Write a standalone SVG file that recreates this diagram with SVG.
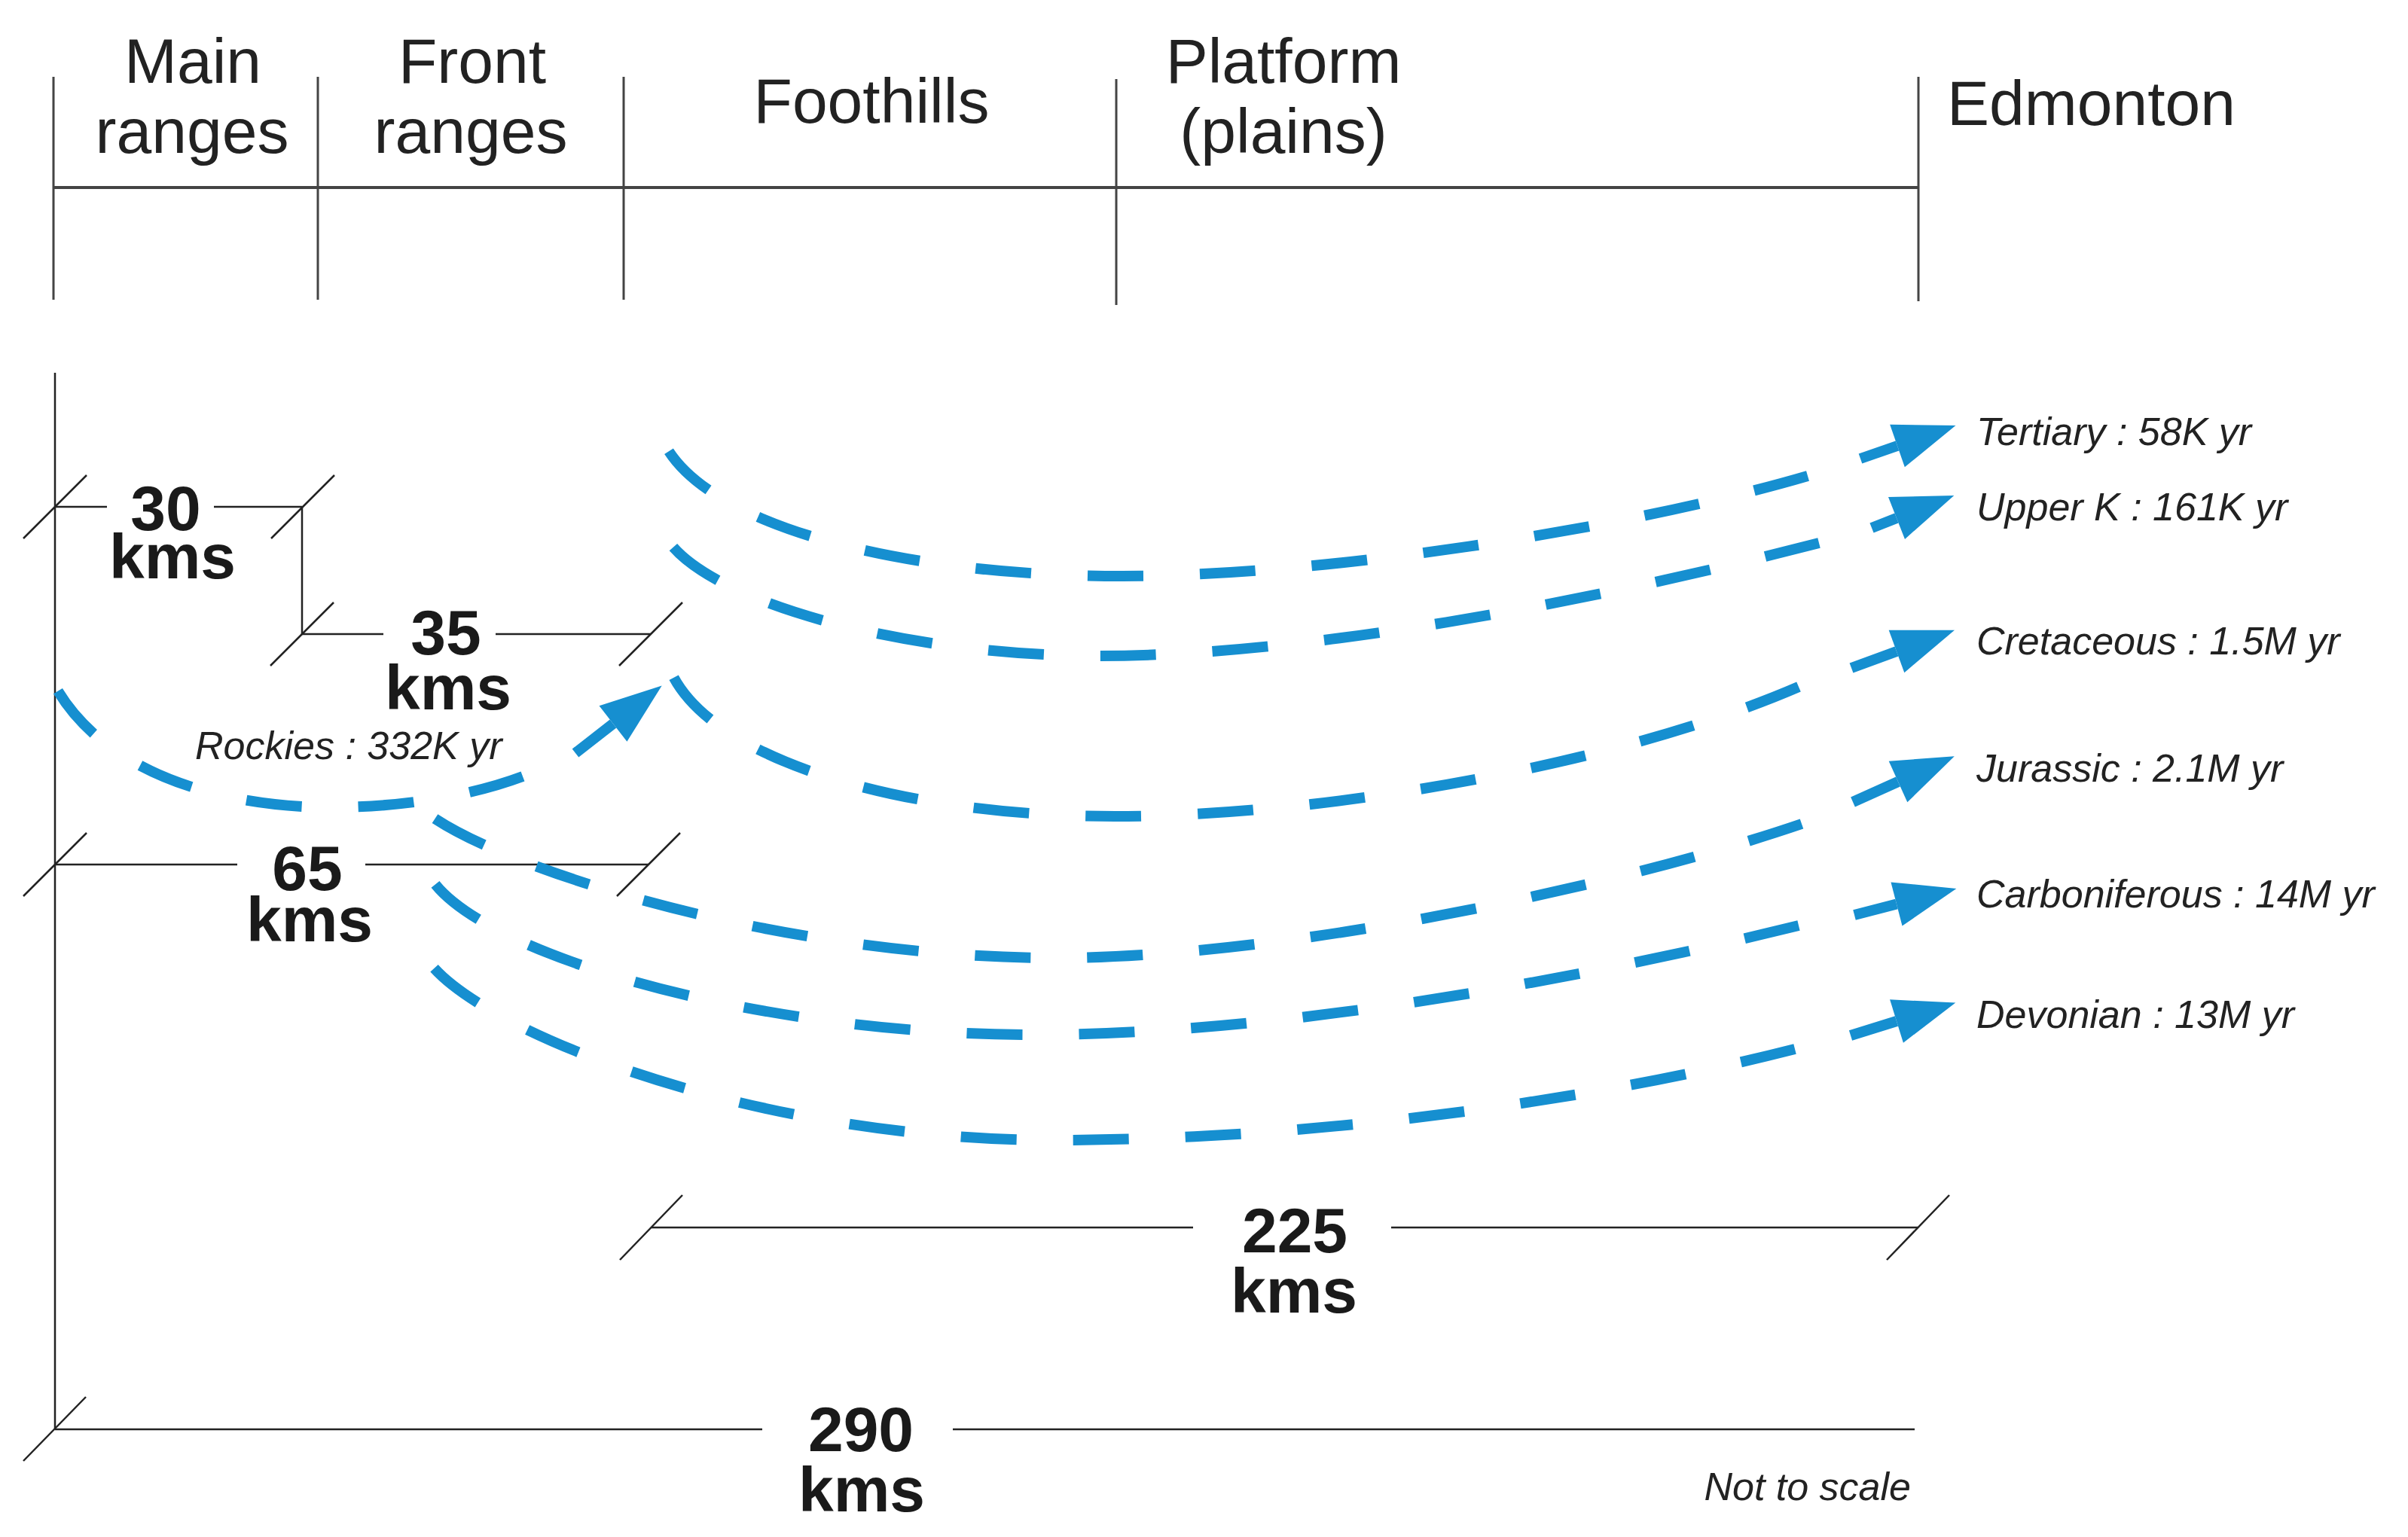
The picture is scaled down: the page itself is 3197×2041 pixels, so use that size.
<svg xmlns="http://www.w3.org/2000/svg" width="3197" height="2041" viewBox="0 0 3197 2041">
<defs>
<style>
.hdr{font-family:"Liberation Sans",Arial,sans-serif;font-size:84px;fill:#222;text-anchor:middle}
.dim{font-family:"Liberation Sans",Arial,sans-serif;font-size:84px;font-weight:bold;fill:#1a1a1a;text-anchor:middle}
.lbl{font-family:"Liberation Sans",Arial,sans-serif;font-size:52px;font-style:italic;fill:#222}
.ln{stroke:#444;stroke-width:3;fill:none}
.tk{stroke:#222;stroke-width:2.5;fill:none}
.crv{stroke:#168fd0;stroke-width:14;fill:none;stroke-dasharray:74 75}
.arr{stroke:#168fd0;stroke-width:14;fill:none;marker-end:url(#ah)}
</style>
<marker id="ah" markerUnits="userSpaceOnUse" markerWidth="90" markerHeight="66" viewBox="0 -33 90 66" refX="0" refY="0" orient="auto" overflow="visible"><path d="M0,-30 L82,0 L0,30 Z" fill="#168fd0"/></marker>
</defs>
<rect width="3197" height="2041" fill="#ffffff"/>

<g id="header-grid">
<line class="ln" x1="71" y1="102" x2="71" y2="398"/>
<line class="ln" x1="422" y1="102" x2="422" y2="398"/>
<line class="ln" x1="828" y1="102" x2="828" y2="398"/>
<line class="ln" x1="1482" y1="105" x2="1482" y2="405"/>
<line class="ln" x1="2547" y1="102" x2="2547" y2="400"/>
<line x1="71" y1="249" x2="2547" y2="249" stroke="#444" stroke-width="4"/>
</g>

<g id="hdr-main"><text class="hdr" x="256" y="110">Main</text><text class="hdr" x="255" y="203">ranges</text></g>
<g id="hdr-front"><text class="hdr" x="627" y="110">Front</text><text class="hdr" x="625" y="203">ranges</text></g>
<g id="hdr-foothills"><text class="hdr" x="1157" y="163">Foothills</text></g>
<g id="hdr-platform"><text class="hdr" x="1704" y="110">Platform</text><text class="hdr" x="1704" y="203">(plains)</text></g>
<g id="hdr-edmonton"><text class="hdr" x="2585" y="166" style="text-anchor:start">Edmonton</text></g>

<g id="axis">
<line class="tk" x1="73" y1="495" x2="73" y2="1898"/>
</g>

<g id="dim-30">
<line class="tk" x1="73" y1="673" x2="142" y2="673"/>
<line class="tk" x1="284" y1="673" x2="401" y2="673"/>
<line class="tk" x1="31" y1="715" x2="115" y2="631"/>
<line class="tk" x1="360" y1="715" x2="444" y2="631"/>
<line class="tk" x1="401" y1="673" x2="401" y2="842"/>
<text class="dim" x="220" y="704">30</text>
<text class="dim" x="229" y="768">kms</text>
</g>

<g id="dim-35">
<line class="tk" x1="401" y1="842" x2="509" y2="842"/>
<line class="tk" x1="658" y1="842" x2="864" y2="842"/>
<line class="tk" x1="359" y1="884" x2="443" y2="800"/>
<line class="tk" x1="822" y1="884" x2="906" y2="800"/>
<text class="dim" x="592" y="869">35</text>
<text class="dim" x="595" y="942">kms</text>
</g>

<g id="dim-65">
<line class="tk" x1="73" y1="1148" x2="315" y2="1148"/>
<line class="tk" x1="485" y1="1148" x2="861" y2="1148"/>
<line class="tk" x1="31" y1="1190" x2="115" y2="1106"/>
<line class="tk" x1="819" y1="1190" x2="903" y2="1106"/>
<text class="dim" x="408" y="1182">65</text>
<text class="dim" x="411" y="1250">kms</text>
</g>

<g id="dim-225">
<line class="tk" x1="865" y1="1630" x2="1584" y2="1630"/>
<line class="tk" x1="1847" y1="1630" x2="2546" y2="1630"/>
<line class="tk" x1="823" y1="1673" x2="906" y2="1587"/>
<line class="tk" x1="2505" y1="1673" x2="2588" y2="1587"/>
<text class="dim" x="1719" y="1663">225</text>
<text class="dim" x="1718" y="1743">kms</text>
</g>

<g id="dim-290">
<line class="tk" x1="73" y1="1898" x2="1012" y2="1898"/>
<line class="tk" x1="1265" y1="1898" x2="2542" y2="1898"/>
<line class="tk" x1="31" y1="1940" x2="114" y2="1855"/>
<text class="dim" x="1143" y="1927">290</text>
<text class="dim" x="1144" y="2007">kms</text>
</g>

<g id="connectors">
<path class="crv" d="M694,1031 C630,1055 540,1072 440,1072 C300,1072 140,1030 73,911"/>
<line class="arr" x1="764" y1="1000" x2="814" y2="961"/>
<path class="crv" d="M2400,632 C2150,705 1750,765 1490,765 C1200,765 940,700 882,589"/>
<line class="arr" x1="2470" y1="609" x2="2519" y2="592"/>
<path class="crv" d="M2415,721 C2150,790 1750,871 1460,871 C1200,871 945,800 887,718"/>
<line class="arr" x1="2485" y1="701" x2="2518" y2="688"/>
<path class="crv" d="M2388,912 C2150,1015 1760,1084 1480,1084 C1200,1084 940,1010 889,888"/>
<line class="arr" x1="2458" y1="887" x2="2518" y2="865"/>
<path class="crv" d="M2392,1094 C2140,1180 1700,1272 1400,1272 C1050,1272 680,1160 570,1082"/>
<line class="arr" x1="2460" y1="1065" x2="2520" y2="1038"/>
<path class="crv" d="M2388,1229 C2100,1300 1700,1374 1370,1374 C1000,1374 630,1265 570,1163"/>
<line class="arr" x1="2462" y1="1215" x2="2518" y2="1200.5"/>
<path class="crv" d="M2383,1393 C2120,1460 1750,1514 1400,1514 C1000,1514 640,1370 570,1278"/>
<line class="arr" x1="2457" y1="1375" x2="2518" y2="1356"/>
</g>

<g id="lbl-rockies"><text class="lbl" x="259" y="1008">Rockies : 332K yr</text></g>
<g id="lbl-tertiary"><text class="lbl" x="2624" y="591">Tertiary : 58K yr</text></g>
<g id="lbl-upperk"><text class="lbl" x="2624" y="691">Upper K : 161K yr</text></g>
<g id="lbl-cretaceous"><text class="lbl" x="2624" y="869">Cretaceous : 1.5M yr</text></g>
<g id="lbl-jurassic"><text class="lbl" x="2624" y="1038">Jurassic : 2.1M yr</text></g>
<g id="lbl-carboniferous"><text class="lbl" x="2624" y="1205">Carboniferous : 14M yr</text></g>
<g id="lbl-devonian"><text class="lbl" x="2624" y="1365">Devonian : 13M yr</text></g>
<g id="lbl-scale"><text class="lbl" x="2537" y="1992" style="text-anchor:end">Not to scale</text></g>
</svg>
